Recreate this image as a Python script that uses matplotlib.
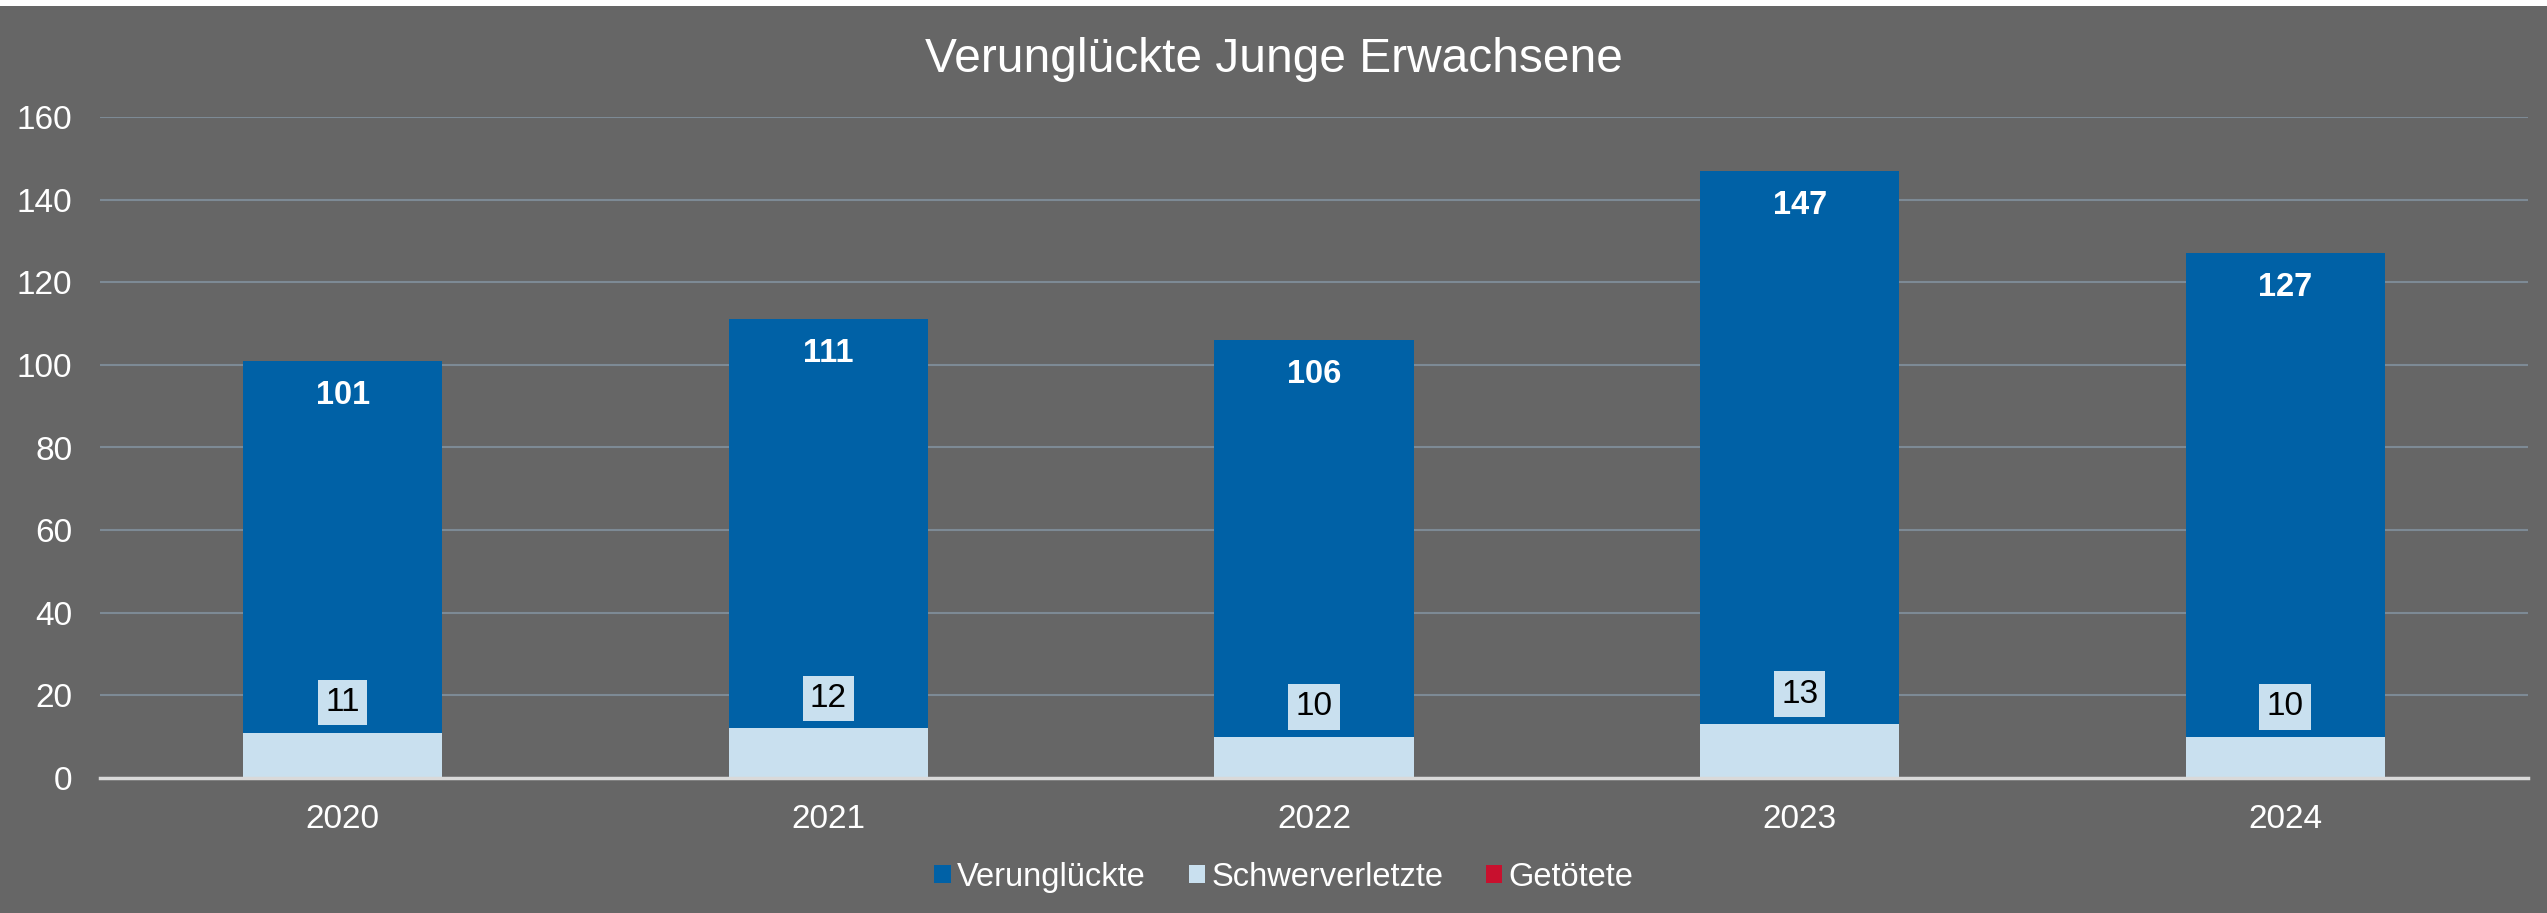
import matplotlib
matplotlib.use("Agg")
import matplotlib.pyplot as plt
from matplotlib.patches import Patch, Rectangle

# Data
years = ["2020", "2021", "2022", "2023", "2024"]
verunglueckte = [101, 111, 106, 147, 127]
schwerverletzte = [11, 12, 10, 13, 10]
getoetete = [0, 0, 0, 0, 0]

# Colours
BG = "#666666"
BLUE = "#0061A6"
LIGHT = "#C9E0EF"
RED = "#C8102E"
GRID = "#7D8A95"

plt.rcParams["font.family"] = ["Liberation Sans", "DejaVu Sans"]

fig = plt.figure(figsize=(25.47, 9.13), dpi=100, facecolor=BG)
fig.patches.append(Rectangle((0, 1 - 6 / 913), 1, 6 / 913, transform=fig.transFigure,
                             facecolor="white", edgecolor="none"))
ax = fig.add_axes([100 / 2547, 135 / 913, 2428 / 2547, 661 / 913])
ax.set_facecolor(BG)

x = list(range(len(years)))
w = 0.41

# overlapping bars (not stacked)
ax.bar(x, verunglueckte, width=w, color=BLUE, zorder=2)
ax.bar(x, schwerverletzte, width=w, color=LIGHT, zorder=3)
ax.bar(x, getoetete, width=w, color=RED, zorder=4)

# value labels
for xi, v in zip(x, verunglueckte):
    ax.annotate(str(v), (xi, v), xytext=(0, -19), textcoords="offset pixels",
                ha="center", va="top", color="white", fontsize=23.5,
                fontweight="bold", zorder=5)
for xi, v in zip(x, schwerverletzte):
    ax.annotate(str(v), (xi, v), xytext=(0, 30), textcoords="offset pixels",
                ha="center", va="center", color="black", fontsize=24,
                bbox=dict(boxstyle="square,pad=0.22", facecolor=LIGHT, edgecolor="none"),
                zorder=5)

ax.set_xlim(-0.5, 4.5)
ax.set_ylim(0, 160)
ax.set_yticks(range(0, 161, 20))
ax.set_xticks(x)
ax.set_xticklabels(years)
ax.tick_params(axis="both", length=0, colors="white", labelsize=24)
ax.tick_params(axis="x", pad=19)
ax.tick_params(axis="y", pad=20)

ax.grid(axis="y", color=GRID, linewidth=1.5, zorder=1)
for side in ["top", "right", "left"]:
    ax.spines[side].set_visible(False)
ax.spines["bottom"].set_color("#D9D9D9")
ax.spines["bottom"].set_linewidth(2.5)
ax.spines["bottom"].set_zorder(6)

fig.text(0.5, 1 - 60 / 913, "Verunglückte Junge Erwachsene", ha="center", va="center",
         color="white", fontsize=34.5)

handles = [Patch(facecolor=BLUE, label="Verunglückte"),
           Patch(facecolor=LIGHT, label="Schwerverletzte"),
           Patch(facecolor=RED, label="Getötete")]
fig.legend(handles=handles, loc="center", bbox_to_anchor=(1284 / 2547, 1 - 877 / 913),
           ncol=3, frameon=False, fontsize=23.5, labelcolor="white",
           handlelength=0.5, handleheight=0.5, handletextpad=0.2, columnspacing=1.3)

fig.savefig("out.png", dpi=100, facecolor=BG)
